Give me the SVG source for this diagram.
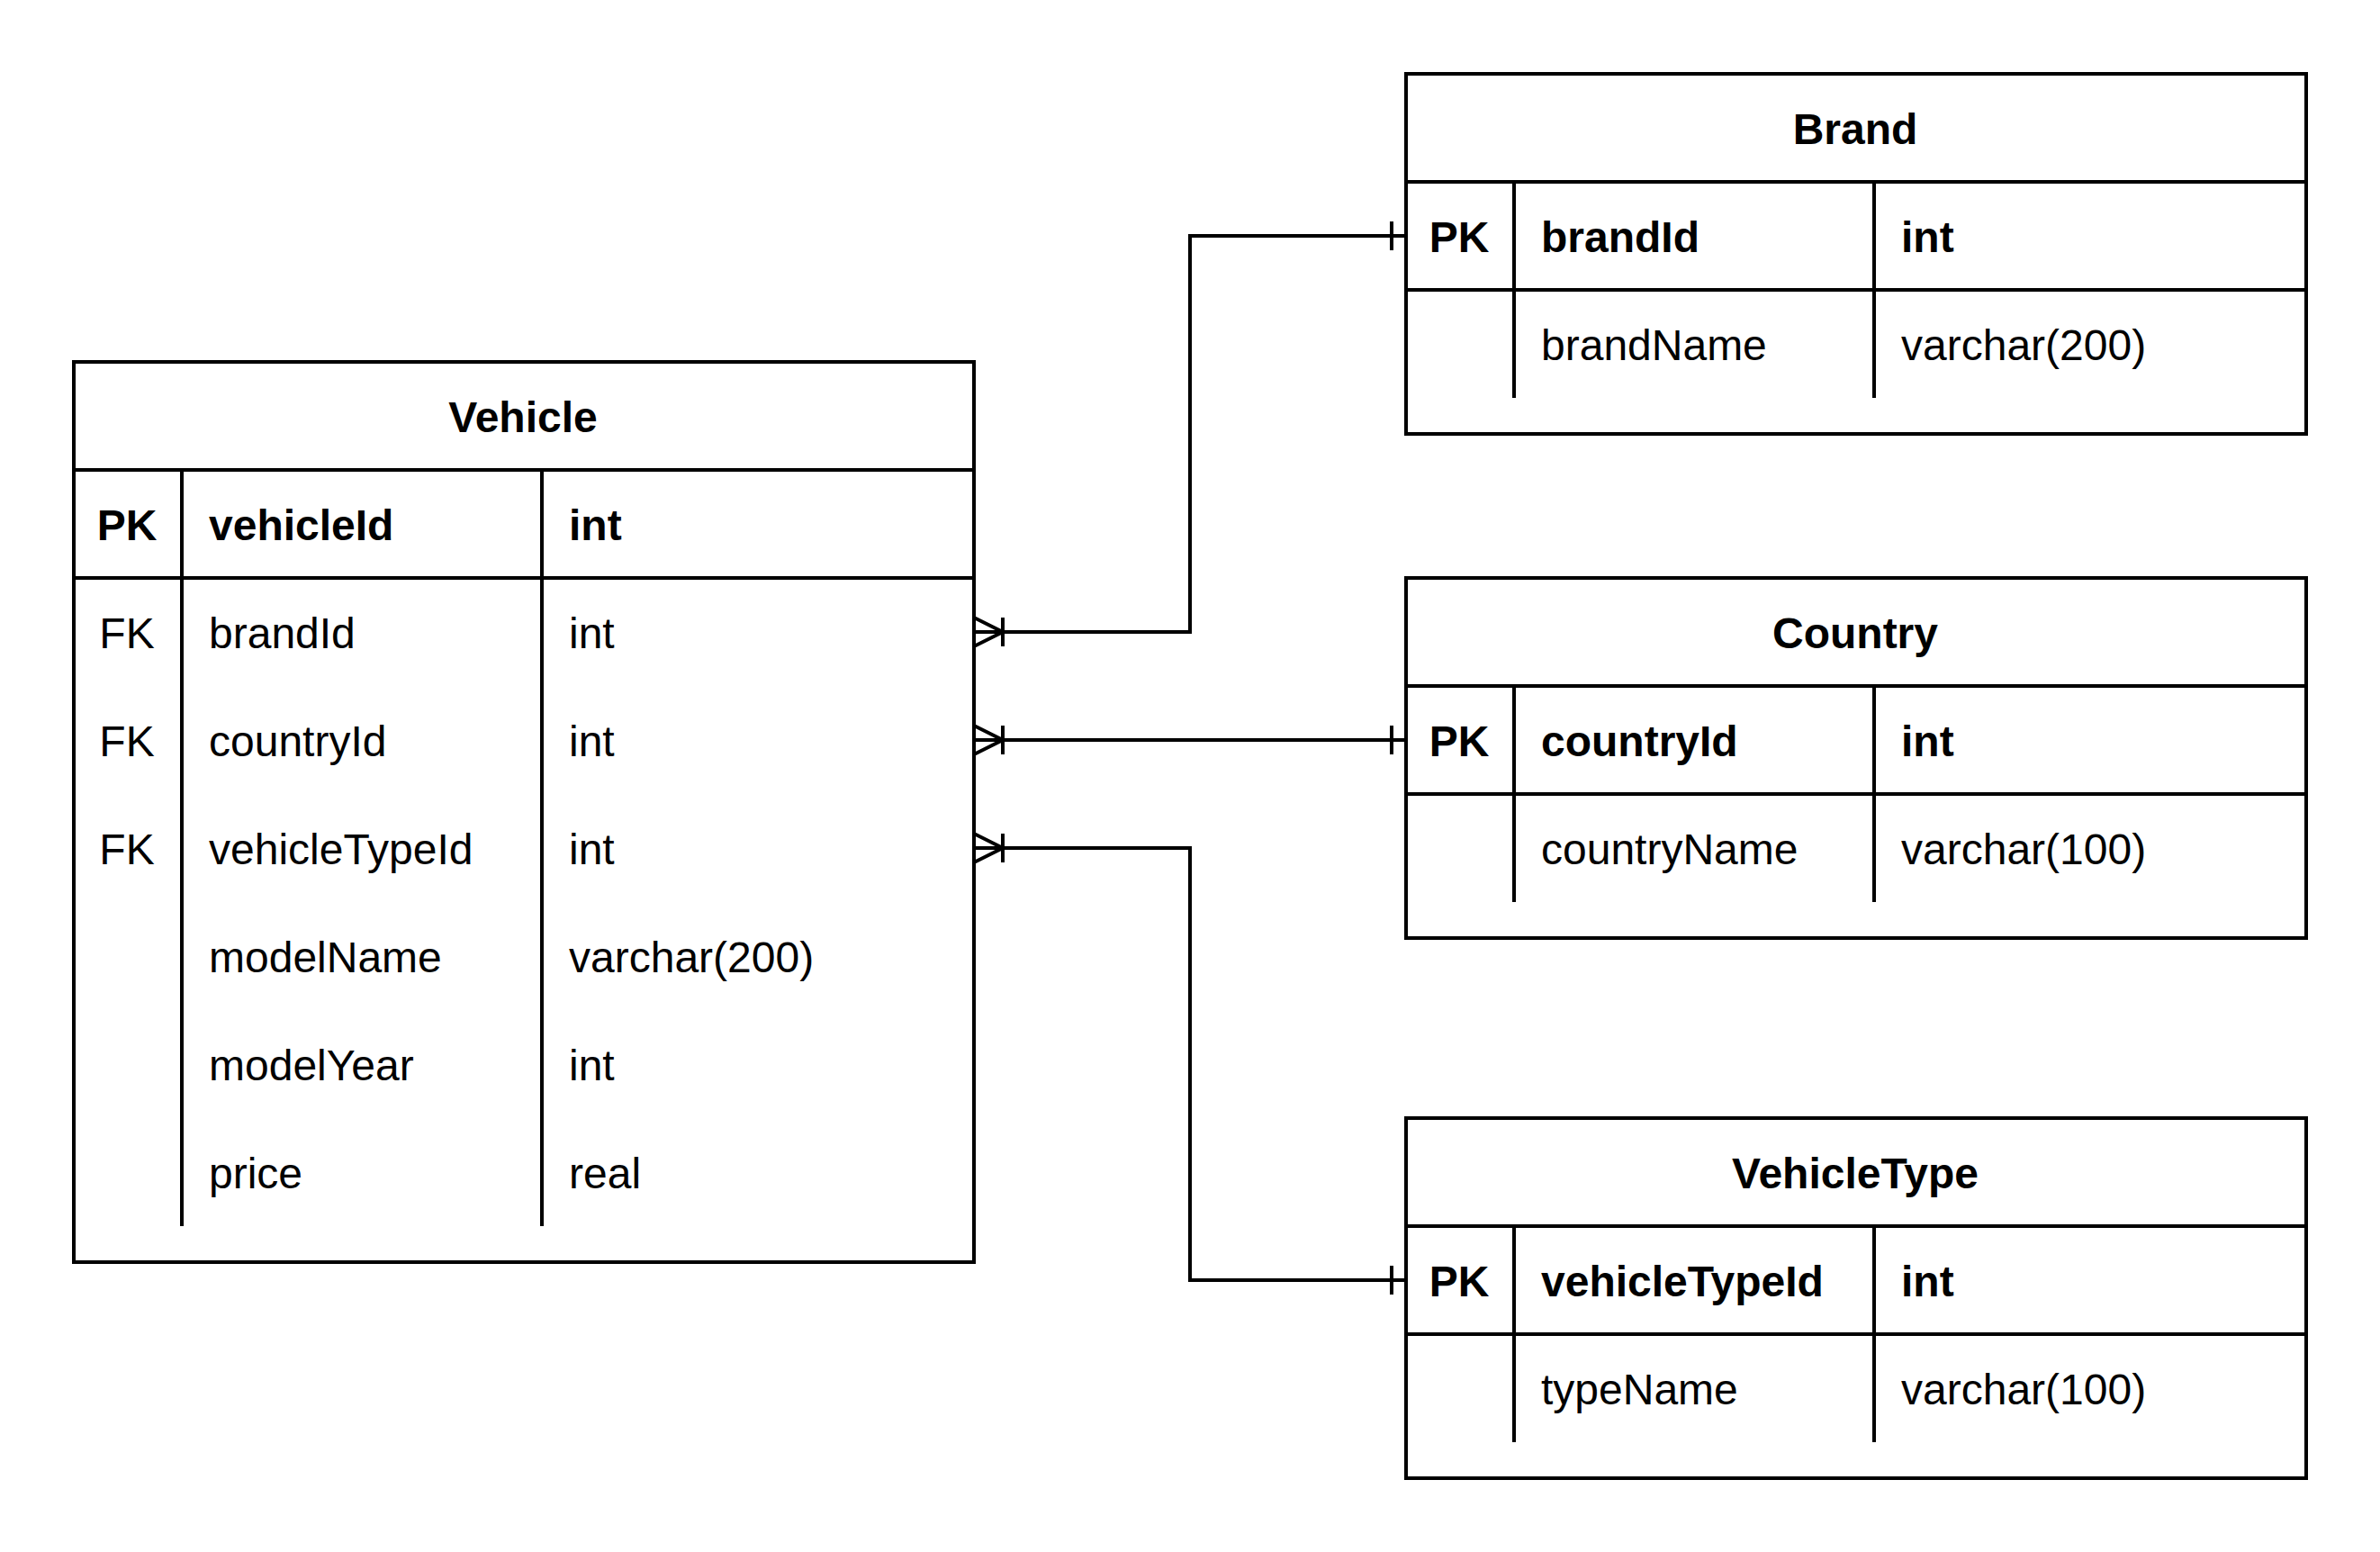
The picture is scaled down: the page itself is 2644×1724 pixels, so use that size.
<svg xmlns="http://www.w3.org/2000/svg" width="2644" height="1724" viewBox="0 0 2644 1724">
<style>
.box{fill:#fff;stroke:#000;stroke-width:4}
.ln{stroke:#000;stroke-width:4;fill:none}
.t{font-family:"Liberation Sans",Arial,sans-serif;font-size:48px;fill:#000}
.b{font-weight:bold}
.c{text-anchor:middle}
.conn{stroke:#000;stroke-width:4;fill:none}
</style>
<rect width="2644" height="1724" fill="#fff"/>
<g id="Vehicle">
<rect class="box" x="82" y="402" width="1000" height="1000"/>
<path class="ln" d="M82 522H1082M82 642H1082M202 522V1362M602 522V1362"/>
<text class="t b c" x="581" y="480">Vehicle</text>
<text class="t b c" x="141" y="600">PK</text>
<text class="t b" x="232" y="600">vehicleId</text>
<text class="t b" x="632" y="600">int</text>
<text class="t c" x="141" y="720">FK</text>
<text class="t" x="232" y="720">brandId</text>
<text class="t" x="632" y="720">int</text>
<text class="t c" x="141" y="840">FK</text>
<text class="t" x="232" y="840">countryId</text>
<text class="t" x="632" y="840">int</text>
<text class="t c" x="141" y="960">FK</text>
<text class="t" x="232" y="960">vehicleTypeId</text>
<text class="t" x="632" y="960">int</text>
<text class="t" x="232" y="1080">modelName</text>
<text class="t" x="632" y="1080">varchar(200)</text>
<text class="t" x="232" y="1200">modelYear</text>
<text class="t" x="632" y="1200">int</text>
<text class="t" x="232" y="1320">price</text>
<text class="t" x="632" y="1320">real</text>
</g>
<g id="Brand">
<rect class="box" x="1562" y="82" width="1000" height="400"/>
<path class="ln" d="M1562 202H2562M1562 322H2562M1682 202V442M2082 202V442"/>
<text class="t b c" x="2061" y="160">Brand</text>
<text class="t b c" x="1621" y="280">PK</text>
<text class="t b" x="1712" y="280">brandId</text>
<text class="t b" x="2112" y="280">int</text>
<text class="t" x="1712" y="400">brandName</text>
<text class="t" x="2112" y="400">varchar(200)</text>
</g>
<g id="Country">
<rect class="box" x="1562" y="642" width="1000" height="400"/>
<path class="ln" d="M1562 762H2562M1562 882H2562M1682 762V1002M2082 762V1002"/>
<text class="t b c" x="2061" y="720">Country</text>
<text class="t b c" x="1621" y="840">PK</text>
<text class="t b" x="1712" y="840">countryId</text>
<text class="t b" x="2112" y="840">int</text>
<text class="t" x="1712" y="960">countryName</text>
<text class="t" x="2112" y="960">varchar(100)</text>
</g>
<g id="VehicleType">
<rect class="box" x="1562" y="1242" width="1000" height="400"/>
<path class="ln" d="M1562 1362H2562M1562 1482H2562M1682 1362V1602M2082 1362V1602"/>
<text class="t b c" x="2061" y="1320">VehicleType</text>
<text class="t b c" x="1621" y="1440">PK</text>
<text class="t b" x="1712" y="1440">vehicleTypeId</text>
<text class="t b" x="2112" y="1440">int</text>
<text class="t" x="1712" y="1560">typeName</text>
<text class="t" x="2112" y="1560">varchar(100)</text>
</g>
<g id="connectors">
<path class="conn" d="M1082 702H1322V262H1562"/>
<path class="conn" d="M1082 686L1114 702L1082 718M1114 686V718M1546 246V278"/>
<path class="conn" d="M1082 822H1562"/>
<path class="conn" d="M1082 806L1114 822L1082 838M1114 806V838M1546 806V838"/>
<path class="conn" d="M1082 942H1322V1422H1562"/>
<path class="conn" d="M1082 926L1114 942L1082 958M1114 926V958M1546 1406V1438"/>
</g>
</svg>
